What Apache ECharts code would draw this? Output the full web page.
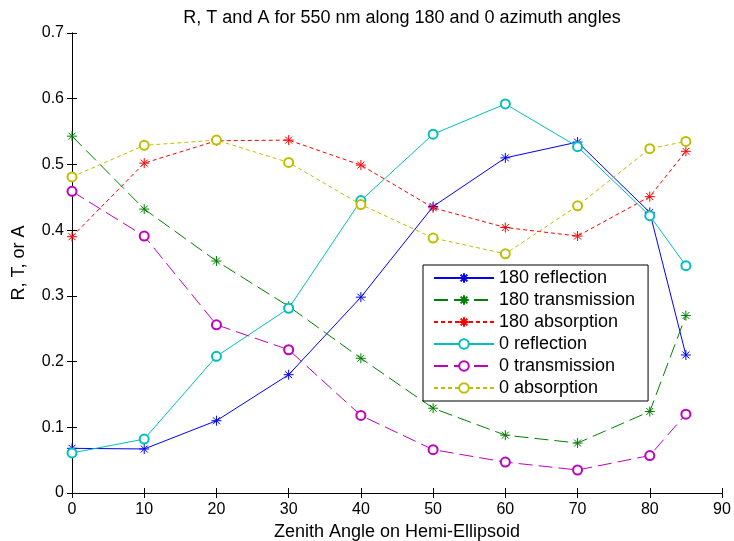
<!DOCTYPE html>
<html>
<head>
<meta charset="utf-8">
<script src="https://cdn.jsdelivr.net/npm/echarts@6/dist/echarts.min.js"></script>
<style>
html,body{margin:0;padding:0;background:#fff;}
#c{width:734px;height:541px;}
</style>
</head>
<body>
<div id="c"></div>
<script>
var angles = [0, 10, 20, 30, 40, 50, 60, 70, 80, 85];
var r180 = [0.068, 0.067, 0.110, 0.180, 0.298, 0.436, 0.510, 0.534, 0.427, 0.210];
var t180 = [0.543, 0.432, 0.353, 0.284, 0.205, 0.129, 0.088, 0.076, 0.124, 0.270];
var a180 = [0.390, 0.502, 0.536, 0.537, 0.499, 0.434, 0.404, 0.391, 0.451, 0.520];
var r0 = [0.061, 0.082, 0.208, 0.281, 0.445, 0.546, 0.592, 0.527, 0.422, 0.346];
var t0 = [0.459, 0.391, 0.256, 0.218, 0.118, 0.066, 0.047, 0.035, 0.057, 0.120];
var a0 = [0.481, 0.529, 0.537, 0.503, 0.439, 0.388, 0.364, 0.437, 0.524, 0.535];
var seriesNames = ['180 reflection', '180 transmission', '180 absorption', '0 reflection', '0 transmission', '0 absorption'];

var FONT = 'Liberation Sans, Arial, sans-serif';
var STAR = 'path://M5 0 L5 10 M0 5 L10 5 M1.5 1.5 L8.5 8.5 M1.5 8.5 L8.5 1.5';

function pairs(vals) {
  return angles.map(function (a, i) { return [a, vals[i]]; });
}
function mk(name, vals, color, dash, star) {
  return {
    name: name,
    type: 'line',
    data: pairs(vals),
    xAxisIndex: 0,
    yAxisIndex: 0,
    symbol: star ? STAR : 'emptyCircle',
    symbolSize: star ? 10 : 9,
    showAllSymbol: true,
    animation: false,
    lineStyle: { color: color, width: 1, type: dash },
    itemStyle: { color: color, borderColor: color, borderWidth: 1 },
    emphasis: { disabled: true }
  };
}

var axisCommonX = {
  type: 'value', min: 0, max: 90, interval: 10,
  axisLine: { show: true, lineStyle: { color: '#000', width: 1 } },
  axisTick: { show: true, inside: true, length: 5, lineStyle: { color: '#000' } },
  splitLine: { show: false }
};
var axisCommonY = {
  type: 'value', min: 0, max: 0.7, interval: 0.1,
  axisLine: { show: true, lineStyle: { color: '#000', width: 1 } },
  axisTick: { show: true, inside: true, length: 5, lineStyle: { color: '#000' } },
  splitLine: { show: false }
};

var chart = echarts.init(document.getElementById('c'), null, { renderer: 'canvas' });
chart.setOption({
  backgroundColor: '#fff',
  animation: false,
  title: {
    text: 'R, T and A for 550 nm along 180 and 0 azimuth angles',
    left: 397, textAlign: 'center', top: 4,
    textStyle: { fontFamily: FONT, fontSize: 18, fontWeight: 'normal', color: '#000' }
  },
  grid: { left: 72, right: 12, top: 33, bottom: 48, containLabel: false, outerBoundsMode: 'none' },
  legend: {
    orient: 'vertical',
    left: 423, top: 265,
    padding: [4, 13, 4, 10],
    itemWidth: 60, itemHeight: 12, itemGap: 4,
    backgroundColor: '#fff',
    borderColor: '#000', borderWidth: 1,
    textStyle: { fontFamily: FONT, fontSize: 18, color: '#000', lineHeight: 18 },
    data: seriesNames
  },
  xAxis: [
    Object.assign({}, axisCommonX, {
      position: 'bottom',
      name: 'Zenith Angle on Hemi-Ellipsoid', nameLocation: 'middle', nameGap: 26,
      nameTextStyle: { fontFamily: FONT, fontSize: 18, color: '#000' },
      axisLabel: { fontFamily: FONT, fontSize: 16, color: '#000', margin: 9 }
    }),
    Object.assign({}, axisCommonX, { position: 'top', axisLabel: { show: false } })
  ],
  yAxis: [
    Object.assign({}, axisCommonY, {
      position: 'left',
      name: 'R, T, or A', nameLocation: 'middle', nameGap: 44,
      nameTextStyle: { fontFamily: FONT, fontSize: 18, color: '#000' },
      axisLabel: {
        fontFamily: FONT, fontSize: 16, color: '#000', margin: 8,
        formatter: function (v) { return v === 0 ? '0' : v.toFixed(1); }
      }
    }),
    Object.assign({}, axisCommonY, { position: 'right', axisLabel: { show: false } })
  ],
  series: [
    mk(seriesNames[0], r180, '#0000ff', 'solid', true),
    mk(seriesNames[1], t180, '#008000', [14, 6], true),
    mk(seriesNames[2], a180, '#ff0000', [4, 3], true),
    mk(seriesNames[3], r0, '#00bfbf', 'solid', false),
    mk(seriesNames[4], t0, '#bf00bf', [14, 6], false),
    mk(seriesNames[5], a0, '#bfbf00', [4, 3], false)
  ]
});
</script>
</body>
</html>
